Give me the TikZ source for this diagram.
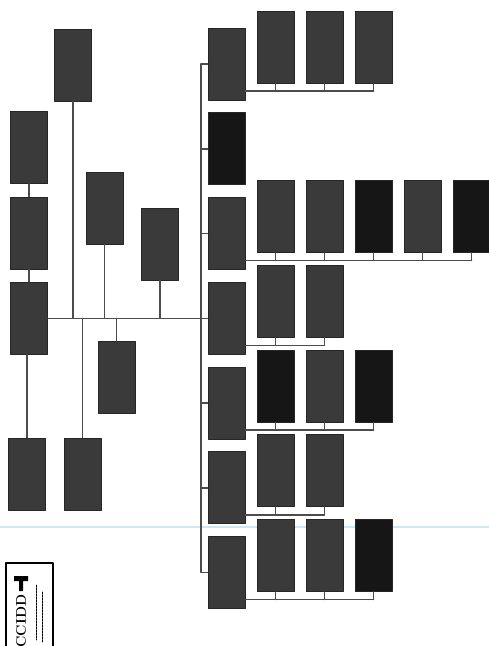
\documentclass[tikz,border=0pt]{standalone}
\usetikzlibrary{calc}
\definecolor{grisCaja}{RGB}{58,58,58}
\definecolor{negroCaja}{RGB}{22,22,22}
\definecolor{lineaScan}{RGB}{205,232,242}
\tikzset{
  caja/.style={draw=black!85, fill=grisCaja, line width=0.8pt, minimum width=37pt,
               minimum height=72pt, inner sep=0pt},
  enlace/.style={draw=black!70, line width=1.5pt},
}
\begin{document}
\begin{tikzpicture}[x=1pt, y=-1pt, line cap=round, line join=round]
  \useasboundingbox (0,0) rectangle (489,646);
  % la raya azul del escaner
  \draw[lineaScan, line width=1.2pt] (0,527) -- (489,527);
  % la rama de la izquierda
  \node[caja] (raiz) at (29,318.25) {};
  \node[caja] (izq1) at (29,233) {};
  \node[caja] (izq2) at (29,147.5) {};
  \node[caja] (izq3) at (27,474) {};
  \node[caja] (sup1) at (73,65) {};
  \node[caja] (sup2) at (104.5,208) {};
  \node[caja] (sup3) at (160,244) {};
  \node[caja] (inf1) at (82.5,474) {};
  \node[caja] (inf2) at (116.5,377.5) {};
  % la columna de la derecha, y sus hijos
  \foreach \i/\c in {1/grisCaja, 2/negroCaja, 3/grisCaja, 4/grisCaja, 5/grisCaja,
                     6/grisCaja, 7/grisCaja} {
    \node[caja, fill=\c] (b\i) at (226.5,{64+84.75*(\i-1)}) {};
  }
  \foreach \g/\k/\c in {1/1/grisCaja, 1/2/grisCaja, 1/3/grisCaja, 3/1/grisCaja, 3/2/grisCaja,
                        3/3/negroCaja, 3/4/grisCaja, 3/5/negroCaja, 4/1/grisCaja, 4/2/grisCaja,
                        5/1/negroCaja, 5/2/grisCaja, 5/3/negroCaja, 6/1/grisCaja, 6/2/grisCaja,
                        7/1/grisCaja, 7/2/grisCaja, 7/3/negroCaja} {
    \node[caja, fill=\c] (h\g\k) at ($(b\g)+({49*\k},-17)$) {};
  }
  % las rayas
  \draw[enlace] (raiz.east) -- (b4.west);
  \foreach \n in {sup1,sup2,sup3} { \draw[enlace] (\n.south) -- (\n |- raiz); }
  \foreach \n in {inf1,inf2} { \draw[enlace] (\n.north) -- (\n |- raiz); }
  \draw[enlace] (raiz.north) -- (izq1.south) (izq1.north) -- (izq2.south);
  \draw[enlace] (raiz.south -| izq3) -- (izq3.north);
  \draw[enlace, line width=1.8pt] (b1.west) -- ++(-7,0) |- (b7.west);
  \foreach \i in {2,...,6} { \draw[enlace] (b\i.west) -- ++(-7,0); }
  \foreach \g/\u in {1/3, 3/5, 4/2, 5/3, 6/2, 7/3} {
    \coordinate (l\g) at ($(b\g.east)+(0,27)$);
    \draw[enlace] (l\g) -- (l\g -| h\g\u);
    \foreach \k in {1,...,\u} { \draw[enlace] (h\g\k.south) -- (h\g\k |- l\g); }
  }
  % el sello de abajo
  \draw[line width=1.3pt] (6,650) |- (53,563) -- (53,650);
  \node[rotate=90, font=\bfseries\fontsize{14}{14}\selectfont] (sigla) at (21,621) {CCIDD};
  \fill (14,576) -- (28,576) -- (28,581) -- (23,581) -- (23,591) -- (19,591) -- (19,581)
    -- (14,581) -- cycle;
  \draw[line width=0.9pt, dash pattern=on 2pt off 1pt] (36,585) -- (36,640) (42,592) -- (42,642);
\end{tikzpicture}
\end{document}
